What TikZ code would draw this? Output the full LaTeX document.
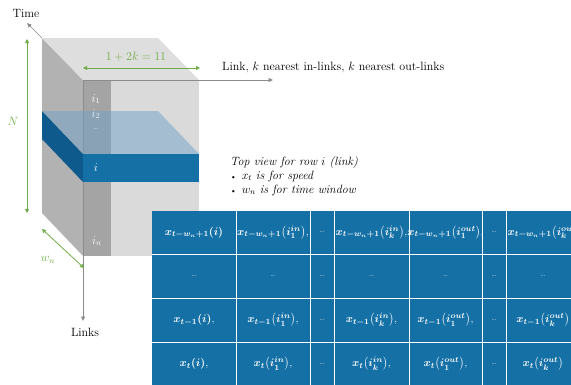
\documentclass[tikz,border=0pt]{standalone}
\usepackage{amsmath}
\usetikzlibrary{arrows.meta}
\definecolor{grn}{HTML}{70AD47}
\definecolor{axgray}{HTML}{8C8C8C}
\definecolor{cleft}{HTML}{B2B2B2}
\definecolor{ctop}{HTML}{DEDEDE}
\definecolor{cfront}{HTML}{DADADA}
\definecolor{cstrip}{HTML}{A4A4A4}
\definecolor{bl}{HTML}{1570A6}
\definecolor{bldark}{HTML}{0F5A8C}
\definecolor{bllight}{HTML}{70A2C8}
\tikzset{
  lbl/.style={font=\fontsize{12}{14}\selectfont, inner sep=0pt},
  glbl/.style={font=\fontsize{12}{14}\selectfont, inner sep=0pt, text=grn},
  wlbl/.style={font=\fontsize{12}{14}\selectfont, inner sep=0pt, text=white},
  cell/.style={font=\fontsize{10.8}{12}\selectfont\boldmath, inner sep=0pt, text=white},
  garrow/.style={draw=grn, line width=0.8pt, {Triangle[length=4pt,width=4pt]}-{Triangle[length=4pt,width=4pt]}},
  axisarrow/.style={draw=axgray, line width=0.7pt, -{Triangle[length=4.5pt,width=4pt]}},
}
\newcommand{\cdts}{{\scriptsize\dots}}
\begin{document}
\begin{tikzpicture}[x=1pt,y=-1pt]
\useasboundingbox (0,0) rectangle (571,384);
\clip (0,0) rectangle (571,384);
% cube corners
\coordinate (O) at (83,80);
\coordinate (BL) at (42,38);
\coordinate (BR) at (158,38);
\coordinate (FR) at (199,80);
\coordinate (FBR) at (199,256);
\coordinate (FBL) at (83,256);
\coordinate (BBL) at (42,213);
% faces
\fill[cleft] (BL) -- (O) -- (FBL) -- (BBL) -- cycle;
\fill[ctop] (BL) -- (BR) -- (FR) -- (O) -- cycle;
\fill[cfront] (O) rectangle (FBR);
\fill[cstrip] (O) rectangle (111,256);
% axes
\coordinate (timeend) at (27,23);
\coordinate (linksend) at (83,321);
\coordinate (linkend) at (273,80);
\draw[axisarrow] (BL) -- (timeend);
\draw[axisarrow] (O) -- (linksend);
\draw[axisarrow] (O) -- (linkend);
% slab
\fill[bldark] (42,111) -- (83,154) -- (83,182) -- (42,139) -- cycle;
\fill[bllight, fill opacity=0.5] (42,111) -- (158,111) -- (199,154) -- (83,154) -- cycle;
\fill[bl] (83,154) rectangle (199,182);
% strip labels
\node[wlbl] (i1) at (96,99) {$i_1$};
\node[wlbl, opacity=0.8] (i2) at (96,114) {$i_2$};
\node[wlbl] (idots) at (96,129) {\cdts};
\node[wlbl] (ii) at (96,168) {$i$};
\node[wlbl] (in) at (97,241) {$i_n$};
% axis labels
\node[lbl] (time) at (26,13) {Time};
\node[lbl] (links) at (85,332) {Links};
\node[lbl, anchor=west] (linklbl) at (222,67) {Link, $k$ nearest in-links, $k$ nearest out-links};
% green dimension arrows
\coordinate (Nt) at (27,39);
\coordinate (Nb) at (27,213);
\draw[garrow] (Nt) -- (Nb);
\node[glbl] (N) at (13,121) {$N$};
\coordinate (Kl) at (83,68);
\coordinate (Kr) at (200,68);
\draw[garrow] (Kl) -- (Kr);
\node[glbl] (K) at (136,57) {$1+2k=11$};
\coordinate (Wt) at (42,229);
\coordinate (Wb) at (84,268);
\draw[garrow] (Wt) -- (Wb);
\node[glbl] (W) at (48,260) {$w_n$};
% top view text
\node[lbl, anchor=west] (tv) at (230,162) {\itshape Top view for row $i$ (link)};
\node[lbl, anchor=west] (b1) at (230,176) {{\footnotesize\textbullet}\hspace{5pt}$x_t$ \itshape is for speed};
\node[lbl, anchor=west] (b2) at (230,190) {{\footnotesize\textbullet}\hspace{5pt}$w_n$ \itshape is for time window};
% table
\fill[bl] (152,211) rectangle (580,390);
\foreach \xx in {236,310,334,409,482,506}
  \draw[white, line width=0.8pt] (\xx,211) -- (\xx,390);
\foreach \yy in {254,298,342}
  \draw[white, line width=0.8pt] (152,\yy) -- (580,\yy);
% row 1
\node[cell] (r1c1) at (194,232.5) {$x_{t-w_n+1}(i)$};
\node[cell] (r1c2) at (273,232.5) {$x_{t-w_n+1}\bigl(i_1^{in}\bigr)$,};
\node[cell] (r1c3) at (322,232.5) {\cdts};
\node[cell] (r1c4) at (371.5,232.5) {$x_{t-w_n+1}\bigl(i_k^{in}\bigr)$,};
\node[cell] (r1c5) at (445.5,232.5) {$x_{t-w_n+1}\bigl(i_1^{out}\bigr)$,};
\node[cell] (r1c6) at (494,232.5) {\cdts};
\node[cell, anchor=west] (r1c7) at (507.5,232.5) {$x_{t-w_n+1}\bigl(i_k^{out}\bigr)$};
% row 2
\foreach \cx/\nm in {194/1,273/2,322/3,371.5/4,445.5/5,494/6,543/7}
  \node[cell] (r2c\nm) at (\cx,276) {\cdts};
% row 3
\node[cell] (r3c1) at (194,320) {$x_{t-1}(i)$,};
\node[cell] (r3c2) at (273,320) {$x_{t-1}\bigl(i_1^{in}\bigr)$,};
\node[cell] (r3c3) at (322,320) {\cdts};
\node[cell] (r3c4) at (371.5,320) {$x_{t-1}\bigl(i_k^{in}\bigr)$,};
\node[cell] (r3c5) at (445.5,320) {$x_{t-1}\bigl(i_1^{out}\bigr)$,};
\node[cell] (r3c6) at (494,320) {\cdts};
\node[cell] (r3c7) at (543,320) {$x_{t-1}\bigl(i_k^{out}\bigr)$};
% row 4
\node[cell] (r4c1) at (194,364) {$x_{t}(i)$,};
\node[cell] (r4c2) at (273,364) {$x_{t}\bigl(i_1^{in}\bigr)$,};
\node[cell] (r4c3) at (322,364) {\cdts};
\node[cell] (r4c4) at (371.5,364) {$x_{t}\bigl(i_k^{in}\bigr)$,};
\node[cell] (r4c5) at (445.5,364) {$x_{t}\bigl(i_1^{out}\bigr)$,};
\node[cell] (r4c6) at (494,364) {\cdts};
\node[cell] (r4c7) at (543,364) {$x_{t}\bigl(i_k^{out}\bigr)$};
\end{tikzpicture}
\end{document}
